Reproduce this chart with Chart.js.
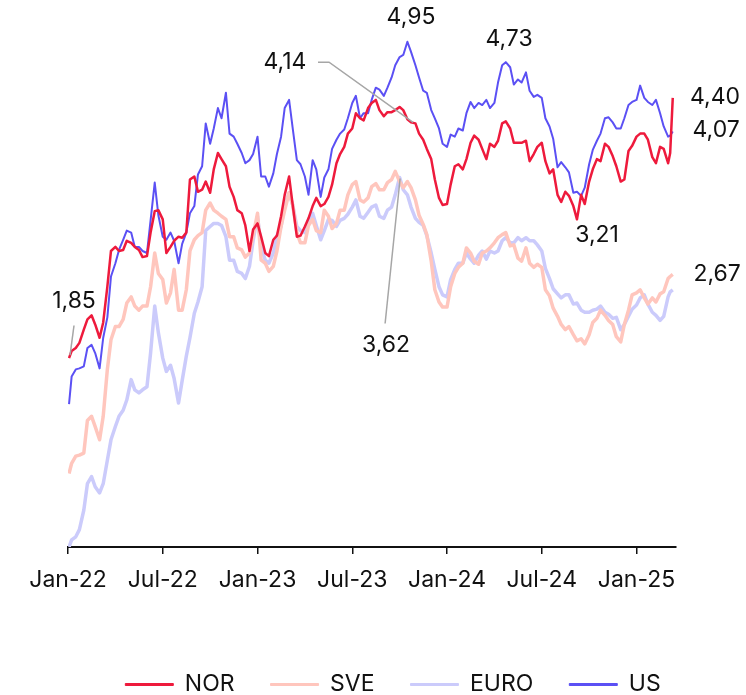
<!DOCTYPE html>
<html>
<head>
<meta charset="utf-8">
<script src="https://cdn.jsdelivr.net/npm/chart.js@4.4.1/dist/chart.umd.min.js"></script>
<style>
  body { margin: 0; background: #fff; }
</style>
</head>
<body>
<canvas id="myChart" width="746" height="695"></canvas>
<script>
// weekly readings, Jan 2022 - Mar 2025
const dates = [
  '2022-01-03','2022-01-08','2022-01-16','2022-01-23','2022-02-01','2022-02-08','2022-02-16','2022-02-23','2022-03-01','2022-03-08','2022-03-16','2022-03-23',
  '2022-04-01','2022-04-08','2022-04-16','2022-04-23','2022-05-01','2022-05-08','2022-05-16','2022-05-23','2022-06-01','2022-06-08','2022-06-16','2022-06-23',
  '2022-07-01','2022-07-08','2022-07-16','2022-07-23','2022-08-01','2022-08-08','2022-08-16','2022-08-23','2022-09-01','2022-09-08','2022-09-16','2022-09-23',
  '2022-10-01','2022-10-08','2022-10-16','2022-10-23','2022-11-01','2022-11-08','2022-11-16','2022-11-23','2022-12-01','2022-12-08','2022-12-16','2022-12-23',
  '2023-01-01','2023-01-08','2023-01-16','2023-01-23','2023-02-01','2023-02-08','2023-02-16','2023-02-23','2023-03-01','2023-03-08','2023-03-16','2023-03-23',
  '2023-04-01','2023-04-08','2023-04-16','2023-04-23','2023-05-01','2023-05-08','2023-05-16','2023-05-23','2023-06-01','2023-06-08','2023-06-16','2023-06-23',
  '2023-07-01','2023-07-08','2023-07-16','2023-07-23','2023-08-01','2023-08-08','2023-08-16','2023-08-23','2023-09-01','2023-09-08','2023-09-16','2023-09-23',
  '2023-10-01','2023-10-08','2023-10-16','2023-10-23','2023-11-01','2023-11-08','2023-11-16','2023-11-23','2023-12-01','2023-12-08','2023-12-16','2023-12-23',
  '2024-01-01','2024-01-08','2024-01-16','2024-01-23','2024-02-01','2024-02-08','2024-02-16','2024-02-23','2024-03-01','2024-03-08','2024-03-16','2024-03-23',
  '2024-04-01','2024-04-08','2024-04-16','2024-04-23','2024-05-01','2024-05-08','2024-05-16','2024-05-23','2024-06-01','2024-06-08','2024-06-16','2024-06-23',
  '2024-07-01','2024-07-08','2024-07-16','2024-07-23','2024-08-01','2024-08-08','2024-08-16','2024-08-23','2024-09-01','2024-09-08','2024-09-16','2024-09-23',
  '2024-10-01','2024-10-08','2024-10-16','2024-10-23','2024-11-01','2024-11-08','2024-11-16','2024-11-23','2024-12-01','2024-12-08','2024-12-16','2024-12-23',
  '2025-01-01','2025-01-08','2025-01-16','2025-01-23','2025-02-01','2025-02-08','2025-02-16','2025-02-23','2025-03-01','2025-03-05','2025-03-10'
];

const nor = [
  1.85,1.92,1.95,2.00,2.13,2.23,2.27,2.18,2.05,2.20,2.55,2.90,2.94,2.90,2.91,3.00,2.98,2.94,2.91,2.84,2.85,3.08,3.29,3.30,
  3.21,2.88,2.94,3.00,3.04,3.03,3.08,3.60,3.63,3.48,3.50,3.58,3.47,3.70,3.86,3.80,3.73,3.53,3.43,3.30,3.27,3.15,2.90,3.11,
  3.17,3.04,2.88,2.85,3.01,3.05,3.24,3.45,3.63,3.35,3.04,3.05,3.14,3.22,3.34,3.42,3.34,3.36,3.43,3.55,3.76,3.85,3.92,4.05,
  4.10,4.25,4.20,4.18,4.30,4.35,4.38,4.28,4.22,4.26,4.26,4.28,4.31,4.28,4.19,4.16,4.15,4.05,3.99,3.90,3.80,3.60,3.42,3.35,
  3.36,3.55,3.73,3.75,3.70,3.80,3.96,4.03,3.99,3.90,3.80,3.95,3.92,3.98,4.15,4.17,4.10,3.96,3.96,3.96,3.98,3.78,3.85,3.92,
  3.96,3.78,3.66,3.70,3.45,3.38,3.48,3.44,3.34,3.21,3.45,3.36,3.58,3.70,3.80,3.78,3.95,3.92,3.83,3.73,3.58,3.60,3.88,3.93,
  4.02,4.05,4.05,3.99,3.82,3.76,3.92,3.90,3.76,3.86,4.40
];
const sve = [
  0.72,0.82,0.89,0.90,0.92,1.24,1.28,1.18,1.05,1.28,1.74,2.03,2.16,2.16,2.23,2.39,2.45,2.36,2.32,2.36,2.36,2.55,2.88,2.68,
  2.62,2.39,2.49,2.72,2.32,2.32,2.52,2.90,3.01,3.05,3.08,3.30,3.37,3.30,3.27,3.24,3.21,3.04,3.04,2.93,2.91,2.84,2.88,3.05,
  3.27,2.81,2.78,2.70,2.75,2.90,3.14,3.30,3.47,3.35,3.08,2.98,2.98,3.15,3.21,3.10,3.08,3.30,3.24,3.12,3.17,3.30,3.30,3.45,
  3.55,3.58,3.40,3.38,3.42,3.53,3.56,3.50,3.50,3.57,3.60,3.68,3.58,3.52,3.58,3.52,3.40,3.25,3.16,3.06,2.80,2.52,2.40,2.35,
  2.35,2.55,2.68,2.74,2.78,2.93,2.88,2.80,2.77,2.88,2.90,2.93,2.98,3.03,3.06,3.08,2.95,2.96,2.83,2.80,2.93,2.78,2.74,2.77,
  2.74,2.52,2.46,2.34,2.26,2.18,2.13,2.16,2.08,2.02,2.04,1.99,2.08,2.20,2.24,2.32,2.27,2.22,2.18,2.06,2.01,2.18,2.32,2.47,
  2.49,2.52,2.44,2.38,2.44,2.40,2.48,2.50,2.63,2.65,2.67
];
const euro = [
  0.00,0.07,0.10,0.17,0.36,0.62,0.69,0.59,0.53,0.62,0.85,1.05,1.18,1.28,1.34,1.44,1.64,1.54,1.51,1.54,1.57,1.90,2.36,2.10,
  1.85,1.72,1.78,1.65,1.41,1.63,1.87,2.05,2.29,2.40,2.55,3.10,3.14,3.17,3.17,3.15,3.04,2.81,2.81,2.70,2.68,2.63,2.75,3.00,
  3.24,2.94,2.81,2.78,2.88,3.05,3.14,3.35,3.47,3.35,3.14,3.10,3.08,3.20,3.27,3.15,3.01,3.10,3.21,3.20,3.14,3.20,3.22,3.26,
  3.33,3.40,3.24,3.22,3.28,3.33,3.35,3.24,3.22,3.30,3.33,3.45,3.62,3.50,3.45,3.33,3.22,3.18,3.15,3.05,2.88,2.72,2.55,2.47,
  2.45,2.62,2.72,2.78,2.78,2.88,2.82,2.78,2.86,2.90,2.82,2.90,2.88,2.90,3.00,3.03,2.98,2.98,3.03,3.00,3.03,3.00,3.00,2.96,
  2.90,2.73,2.63,2.53,2.48,2.44,2.47,2.47,2.38,2.39,2.32,2.30,2.30,2.32,2.33,2.36,2.30,2.28,2.24,2.25,2.13,2.18,2.26,2.33,
  2.37,2.44,2.47,2.38,2.30,2.27,2.22,2.26,2.45,2.50,2.52
];
const us = [
  1.40,1.67,1.74,1.75,1.77,1.95,1.98,1.90,1.75,2.05,2.25,2.65,2.78,2.91,3.01,3.10,3.08,2.94,2.94,2.90,2.88,3.20,3.57,3.25,
  3.04,3.01,3.08,3.00,2.78,2.97,3.08,3.27,3.34,3.65,3.73,4.15,3.95,4.10,4.30,4.20,4.45,4.05,4.02,3.95,3.86,3.76,3.79,3.85,
  4.02,3.63,3.63,3.53,3.66,3.85,4.02,4.30,4.38,4.10,3.79,3.75,3.63,3.45,3.79,3.70,3.43,3.62,3.70,3.90,3.99,4.05,4.09,4.20,
  4.35,4.42,4.20,4.25,4.25,4.38,4.50,4.48,4.42,4.50,4.60,4.72,4.80,4.82,4.95,4.85,4.72,4.60,4.47,4.45,4.28,4.20,4.10,3.95,
  3.92,4.04,4.02,4.10,4.08,4.25,4.36,4.30,4.35,4.33,4.38,4.30,4.35,4.55,4.72,4.75,4.70,4.53,4.58,4.55,4.65,4.47,4.41,4.43,
  4.40,4.20,4.12,4.00,3.72,3.77,3.72,3.67,3.47,3.48,3.44,3.52,3.75,3.89,3.98,4.05,4.20,4.21,4.16,4.10,4.10,4.20,4.33,4.36,
  4.38,4.52,4.40,4.36,4.33,4.38,4.25,4.12,4.02,4.03,4.07
];

const tickMonths = [0, 6, 12, 18, 24, 30, 36];
const tickLabels = ['Jan-22', 'Jul-22', 'Jan-23', 'Jul-23', 'Jan-24', 'Jul-24', 'Jan-25'];

// callouts: text, text position (month, value), leader line points
const callouts = [
  { text: '1,85', at: [0.38, 2.41], line: [[0.38, 2.17], [0.13, 1.88]] },
  { text: '4,14', at: [13.74, 4.75], line: [[15.83, 4.75], [16.53, 4.75], [21.85, 4.16]] },
  { text: '4,95', at: [21.72, 5.19], line: [] },
  { text: '3,62', at: [20.14, 1.98], line: [[20.08, 2.19], [21.03, 3.61]] },
  { text: '4,73', at: [27.93, 4.98], line: [] },
  { text: '3,21', at: [33.5, 3.06], line: [] },
  { text: '4,40', at: [40.97, 4.41], line: [] },
  { text: '4,07', at: [41.04, 4.08], line: [] },
  { text: '2,67', at: [41.1, 2.67], line: [] }
];

const FONT = 'Inter, "Liberation Sans", Arial, sans-serif';

function toMonth(d) {
  const p = d.split('-').map(Number);
  return (p[0] - 2022) * 12 + (p[1] - 1) + (p[2] - 1) / 30.5;
}

function series(values) {
  return values.map((v, i) => ({ x: toMonth(dates[i]), y: v }));
}

const calloutPlugin = {
  id: 'callouts',
  afterLayout(chart) {
    // legend sits a bit right of the plot centre
    chart.legend.left += 21;
    chart.legend.right += 21;
  },
  afterDatasetsDraw(chart) {
    const ctx = chart.ctx;
    const xs = chart.scales.x;
    const ys = chart.scales.y;
    ctx.save();
    ctx.strokeStyle = '#a6a6a6';
    ctx.lineWidth = 1.5;
    callouts.forEach(c => {
      if (c.line.length > 1) {
        ctx.beginPath();
        c.line.forEach((p, i) => {
          const px = xs.getPixelForValue(p[0]);
          const py = ys.getPixelForValue(p[1]);
          if (i == 0) ctx.moveTo(px, py); else ctx.lineTo(px, py);
        });
        ctx.stroke();
      }
    });
    ctx.fillStyle = '#111';
    ctx.font = '23px ' + FONT;
    ctx.textAlign = 'center';
    ctx.textBaseline = 'middle';
    callouts.forEach(c => {
      ctx.fillText(c.text, xs.getPixelForValue(c.at[0]), ys.getPixelForValue(c.at[1]));
    });
    ctx.restore();
  }
};

function chart() {
  const data = {
    datasets: [
      { label: 'NOR', data: series(nor), borderColor: '#ee1a3c', backgroundColor: '#ee1a3c', borderWidth: 2.5 },
      { label: 'SVE', data: series(sve), borderColor: '#ffc6bd', backgroundColor: '#ffc6bd', borderWidth: 3.5 },
      { label: 'EURO', data: series(euro), borderColor: '#cbcbfb', backgroundColor: '#cbcbfb', borderWidth: 3.5 },
      { label: 'US', data: series(us), borderColor: '#5b50f4', backgroundColor: '#5b50f4', borderWidth: 2 }
    ]
  };

  const config = {
    type: 'line',
    data: data,
    options: {
      responsive: false,
      animation: false,
      devicePixelRatio: 1,
      elements: { point: { radius: 0 }, line: { tension: 0, borderJoinStyle: 'round' } },
      layout: { padding: { top: 6, left: 68, right: 70, bottom: -11 } },
      scales: {
        x: {
          type: 'linear',
          min: 0,
          max: 38.5,
          afterBuildTicks: s => { s.ticks = tickMonths.map(v => ({ value: v })); },
          afterFit: s => { s.height = 90; },
          ticks: {
            callback: (v, i) => tickLabels[i],
            color: '#111',
            padding: 12,
            maxRotation: 0,
            autoSkip: false,
            font: { family: FONT, size: 23 }
          },
          grid: { drawOnChartArea: false, drawTicks: true, tickLength: 7, color: '#111', lineWidth: 1.5 },
          border: { display: true, color: '#111', width: 2 }
        },
        y: { display: false, min: 0, max: 5.3 }
      },
      plugins: {
        legend: {
          position: 'bottom',
          labels: {
            boxWidth: 48,
            boxHeight: 2,
            padding: 36,
            color: '#111',
            font: { family: FONT, size: 23 },
            generateLabels: c => Chart.defaults.plugins.legend.labels.generateLabels(c).map(l => { l.lineWidth = 1; return l; })
          }
        },
        tooltip: { enabled: false }
      }
    },
    plugins: [calloutPlugin]
  };

  new Chart(document.getElementById('myChart'), config);
}

chart();
</script>
</body>
</html>
